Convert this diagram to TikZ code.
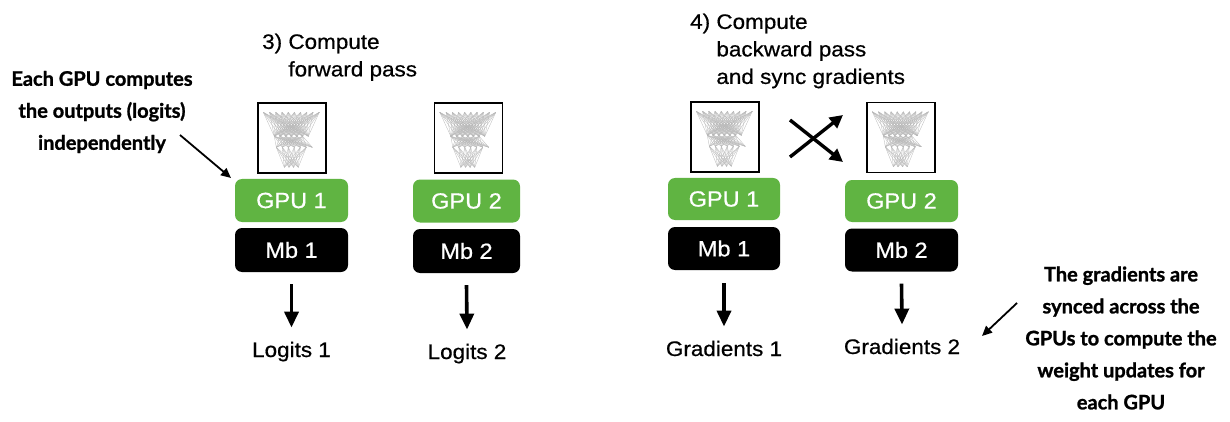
\documentclass[tikz,border=0pt]{standalone}
\usepackage{fontspec}
\setmainfont{Liberation Sans}
\newfontfamily\hfont{Liberation Sans}[FakeStretch=1.07,FakeBold=0.6]
\newfontfamily\annfont{Lato}[FakeBold=1.2]
\usetikzlibrary{arrows.meta}
\definecolor{gpugreen}{RGB}{96,180,66}
\tikzset{
  netbox/.style={draw=black, line width=1.4pt, minimum width=68pt, minimum height=70pt, inner sep=0pt},
  gpubox/.style={fill=gpugreen, rounded corners=7pt, minimum width=113pt, minimum height=43pt, inner sep=0pt, text=white, font=\hfont\fontsize{22}{26}\selectfont},
  mbbox/.style={fill=black, rounded corners=7pt, minimum width=113pt, minimum height=44pt, inner sep=0pt, text=white, font=\hfont\fontsize{22}{26}\selectfont},
  lbl/.style={font=\hfont\fontsize{21}{25}\selectfont, inner sep=0pt, anchor=base},
  ttl/.style={font=\hfont\fontsize{21}{27.5}\selectfont, align=left, inner sep=0pt, anchor=north west},
  ann/.style={font=\annfont\bfseries\fontsize{20}{32}\selectfont, align=center, inner sep=0pt},
  downarr/.style={-{Triangle[length=16pt,width=14pt]}, line width=3.6pt},
  crossarr/.style={-{Triangle[length=13pt,width=13pt]}, line width=3.4pt},
  annarr/.style={-{Triangle[length=10pt,width=9pt]}, line width=1.8pt},
  netline/.style={black!28, line width=0.3pt}
}
\newcommand{\drawnet}[1]{%
  \begin{scope}[shift={(#1.north west)}]
    \foreach \i in {0,...,9}{\foreach \j in {0,...,6}{\draw[netline] ({6+\i*56/9},10) -- ({17+\j*34/6},34);}}
    \foreach \i in {0,...,6}{\foreach \j in {0,...,5}{\draw[netline] ({17+\j*34/6},34) -- ({19+\i*30/5},45);}}
    \foreach \i in {0,...,5}{\foreach \j in {0,...,3}{\draw[netline] ({19+\i*30/5},45) -- ({27+\j*14/3},65);}}
  \end{scope}}
\begin{document}
\begin{tikzpicture}[x=1pt, y=-1pt]
\useasboundingbox[fill=white] (0,0) rectangle (1230,422);

% titles
\node[ttl] (t3) at (262,33.5) {3)~Compute\\\phantom{3)~}forward pass};
\node[ttl] (t4) at (690,13.5) {4)~Compute\\\phantom{4)~}backward pass\\\phantom{4)~}and sync gradients};

% left group
\node[netbox] (net1) at (292,138) {};
\node[gpubox] (gpu1) at (291.5,200.5) {GPU 1};
\node[mbbox] (mb1) at (291.5,250) {Mb 1};
\node[lbl] (lg1) at (291.5,357) {Logits 1};

\node[netbox] (net2) at (468.5,138) {};
\node[gpubox, minimum width=107pt] (gpu2) at (466.5,201) {GPU 2};
\node[mbbox, minimum width=107pt] (mb2) at (466.5,251) {Mb 2};
\node[lbl] (lg2) at (467,359) {Logits 2};

% right group
\node[netbox] (net3) at (725,137) {};
\node[gpubox, minimum width=112pt, minimum height=42pt] (gpu3) at (724,199) {GPU 1};
\node[mbbox, minimum width=112pt, minimum height=43pt] (mb3) at (724,248.5) {Mb 1};
\node[lbl] (gr1) at (724,356) {Gradients 1};

\node[netbox] (net4) at (901,137.5) {};
\node[gpubox, minimum height=42pt] (gpu4) at (901.5,201) {GPU 2};
\node[mbbox, minimum height=43pt] (mb4) at (901.5,250) {Mb 2};
\node[lbl] (gr2) at (902,354) {Gradients 2};

\foreach \n in {net1,net2,net3,net4}{\drawnet{\n}}

% down arrows
\draw[downarr] ([yshift=-12pt]mb1.south) -- ([yshift=14pt]lg1.north);
\draw[downarr] ([yshift=-12pt]mb2.south) -- ([yshift=14pt]lg2.north);
\draw[downarr] ([yshift=-13pt]mb3.south) -- ([yshift=14pt]gr1.north);
\draw[downarr] ([yshift=-12pt]mb4.south) -- ([yshift=14pt]gr2.north);

% cross arrows
\coordinate (xa1) at (790,120);
\coordinate (xb1) at (843,162);
\coordinate (xa2) at (790,157);
\coordinate (xb2) at (843,115);
\draw[crossarr] (xa1) -- (xb1);
\draw[crossarr] (xa2) -- (xb2);

% annotations
\node[ann] (annL) at (102,112) {Each GPU computes\\the outputs (logits)\\independently};
\node[ann] (annR) at (1121,338) {The gradients are\\synced across the\\GPUs to compute the\\weight updates for\\each GPU};
\coordinate (aL) at (180,135);
\coordinate (bL) at (231,178);
\draw[annarr] (aL) -- (bL);
\coordinate (aR) at (1017,303);
\coordinate (bR) at (982,336);
\draw[annarr] (aR) -- (bR);
\end{tikzpicture}
\end{document}
